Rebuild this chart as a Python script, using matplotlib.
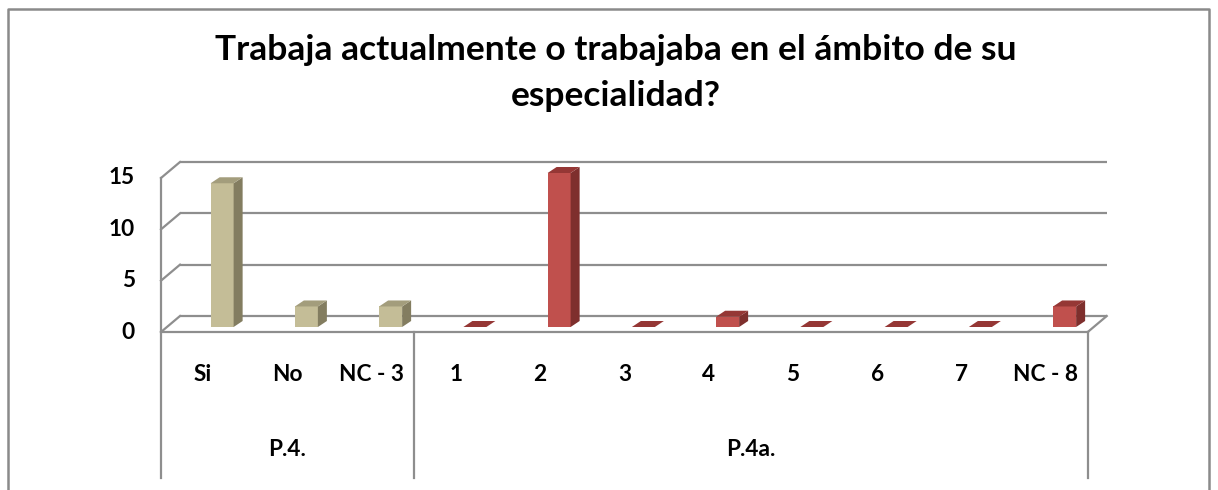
import matplotlib
matplotlib.use("Agg")
import matplotlib.pyplot as plt
from matplotlib.patches import Polygon
from matplotlib.lines import Line2D

# ---- data ----
title = "Trabaja actualmente o trabajaba en el ámbito de su\nespecialidad?"
groups = ["P.4.", "P.4a."]
p4_categories = ["Si", "No", "NC - 3"]
p4a_categories = ["1", "2", "3", "4", "5", "6", "7", "NC - 8"]
p4_values = [14, 2, 2]
p4a_values = [0, 15, 0, 1, 0, 0, 0, 2]
y_ticks = [0, 5, 10, 15]

# ---- styling ----
FONT = ["Lato", "DejaVu Sans"]
GRID = "#8E8E8E"
TAN = {"front": "#C4BD97", "side": "#837D60", "top": "#A39D7C"}
RED = {"front": "#C0504D", "side": "#7E2F2D", "top": "#953735"}
LABEL_SIZE = 16.3

W, H, DPI = 1218, 490, 100
fig = plt.figure(figsize=(W / DPI, H / DPI), dpi=DPI)
ax = fig.add_axes([0, 0, 1, 1])
ax.set_axis_off()

# back-wall scale: one category = 84.25 px, one unit = 10.267 px
cat_px, val_px = 84.25, 10.267
x0_px, y0_px = 180, 316
ax.set_xlim(-x0_px / cat_px, (W - x0_px) / cat_px)
ax.set_ylim((y0_px - H) / val_px, y0_px / val_px)

def px_x(p):
    return (p - x0_px) / cat_px

def px_y(p):
    return (y0_px - p) / val_px

categories = p4_categories + p4a_categories
values = p4_values + p4a_values
styles = [TAN] * len(p4_values) + [RED] * len(p4a_values)
n = len(categories)
ymax = max(y_ticks)

# depth of the floor / left wall and of each bar
front_dx, front_dy = -19 / cat_px, -16 / val_px
bar_base = -11 / val_px
bar_w = 23 / cat_px
side_dx, side_dy = 9 / cat_px, 6 / val_px

lw = 1.6
# back wall gridlines and left wall
for t in y_ticks:
    ax.plot([0, n], [t, t], color=GRID, lw=lw, zorder=1, solid_capstyle="butt")
    ax.plot([front_dx, 0], [t + front_dy, t], color=GRID, lw=lw, zorder=1)
ax.plot([front_dx, front_dx], [ymax + front_dy, px_y(478)], color=GRID, lw=lw, zorder=2)
# floor edges
ax.plot([front_dx, n + front_dx], [front_dy, front_dy], color=GRID, lw=lw, zorder=2)
ax.plot([n + front_dx, n], [front_dy, 0], color=GRID, lw=lw, zorder=2)
# group separators
for xs in [len(p4_values) + front_dx, n + front_dx]:
    ax.plot([xs, xs], [front_dy, px_y(478)], color=GRID, lw=lw, zorder=2)

# 3-D columns
centers = [i + 0.5 for i in range(n)]
ax.bar(centers, values, width=bar_w, bottom=bar_base,
       color=[s["front"] for s in styles], linewidth=0, zorder=4)
for c, v, s in zip(centers, values, styles):
    left, right = c - bar_w / 2, c + bar_w / 2
    top = bar_base + v
    if v > 0:
        ax.add_patch(Polygon([(right, bar_base), (right + side_dx, bar_base + side_dy),
                              (right + side_dx, top + side_dy), (right, top)],
                             closed=True, facecolor=s["side"], edgecolor="none", zorder=4))
    ax.add_patch(Polygon([(left, top), (right, top), (right + side_dx, top + side_dy),
                          (left + side_dx, top + side_dy)],
                         closed=True, facecolor=s["top"], edgecolor="none", zorder=4))

# value axis labels
for t in y_ticks:
    ax.text(px_x(135), t + front_dy, str(t), ha="right", va="center",
            fontsize=LABEL_SIZE, fontweight="bold", family=FONT)

# category labels
for c, lab in zip(centers, categories):
    ax.text(c + front_dx, px_y(374), lab, ha="center", va="center",
            fontsize=LABEL_SIZE, fontweight="bold", family=FONT)

# group labels
group_centers = [len(p4_values) / 2 + front_dx,
                 len(p4_values) + len(p4a_values) / 2 + front_dx]
for g, gc in zip(groups, group_centers):
    ax.text(gc, px_y(449), g, ha="center", va="center",
            fontsize=LABEL_SIZE, fontweight="bold", family=FONT)

# title
fig.text(616 / W, 1 - 73 / H, title, ha="center", va="center", fontsize=25.5,
         fontweight="bold", family=FONT, linespacing=1.5)

# chart frame
fx = lambda p: p / W
fy = lambda p: 1 - p / H
fig.add_artist(Line2D([fx(8), fx(8), fx(1209), fx(1209)], [0, fy(9), fy(9), 0],
                      transform=fig.transFigure, color="#8A8A8A", lw=1.8))

fig.savefig("out.png", dpi=DPI)
